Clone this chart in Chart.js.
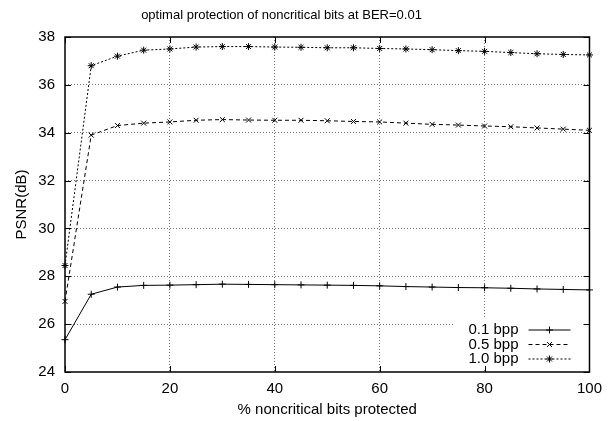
<!DOCTYPE html>
<html><head><meta charset="utf-8">
<script src="https://cdn.jsdelivr.net/npm/chart.js@4"></script>
<style>html,body{margin:0;padding:0;background:#fff}#wrap{width:610px;height:421px}</style>
</head><body><div id="wrap"><canvas id="c" width="610" height="421"></canvas></div>
<script>
const titleText = 'optimal protection of noncritical bits at BER=0.01';
const xLabel = '% noncritical bits protected';
const yLabel = 'PSNR(dB)';
const protectedPct = [0,5,10,15,20,25,30,35,40,45,50,55,60,65,70,75,80,85,90,95,100];
const seriesLabels = ['0.1 bpp','0.5 bpp','1.0 bpp'];
const psnr01 = [25.35,27.25,27.55,27.62,27.63,27.65,27.67,27.66,27.65,27.64,27.63,27.62,27.60,27.57,27.55,27.53,27.52,27.50,27.47,27.45,27.43];
const psnr05 = [26.95,33.90,34.30,34.40,34.45,34.52,34.55,34.53,34.52,34.52,34.50,34.47,34.45,34.40,34.35,34.32,34.28,34.25,34.20,34.15,34.10];
const psnr10 = [28.45,36.80,37.20,37.45,37.50,37.58,37.60,37.60,37.58,37.57,37.55,37.55,37.52,37.50,37.47,37.43,37.40,37.35,37.30,37.27,37.25];
const xTicks = [0,20,40,60,80,100];
const yTicks = [24,26,28,30,32,34,36,38];

const FONT = '"Liberation Sans", Arial, Helvetica, sans-serif';
const seriesValues = [psnr01, psnr05, psnr10];
const pointStyles = ['cross','crossRot','star'];
const dashes = [[], [4,3], [2,2]];

function drawMarker(ctx, style, x, y, r){
  ctx.beginPath();
  if (style === 'cross' || style === 'star'){
    ctx.moveTo(x - r, y); ctx.lineTo(x + r, y);
    ctx.moveTo(x, y - r); ctx.lineTo(x, y + r);
  }
  if (style === 'crossRot' || style === 'star'){
    const d = r * 0.7071;
    ctx.moveTo(x - d, y - d); ctx.lineTo(x + d, y + d);
    ctx.moveTo(x - d, y + d); ctx.lineTo(x + d, y - d);
  }
  ctx.stroke();
}

const gnuplotDecor = {
  id: 'gnuplotDecor',
  afterDatasetsDraw(chart){
    const ctx = chart.ctx, a = chart.chartArea;
    ctx.save();
    // legend box (white, covers grid)
    const boxL = a.right - 135, boxT = a.bottom - 54;
    ctx.fillStyle = '#fff';
    ctx.fillRect(boxL, boxT, 131, 50);
    ctx.font = '15px ' + FONT;
    ctx.fillStyle = '#000';
    ctx.textAlign = 'right';
    ctx.textBaseline = 'middle';
    const rows = [a.bottom - 42, a.bottom - 27.5, a.bottom - 13];
    seriesLabels.forEach((lab, i) => {
      const yy = rows[i];
      ctx.fillText(lab, a.right - 71, yy);
      ctx.strokeStyle = '#000';
      ctx.lineWidth = 1;
      ctx.setLineDash(dashes[i]);
      ctx.beginPath(); ctx.moveTo(a.right - 61, yy); ctx.lineTo(a.right - 19, yy); ctx.stroke();
      ctx.setLineDash([]);
      drawMarker(ctx, pointStyles[i], a.right - 40, yy, 3.5);
    });
    ctx.restore();
  },
  afterDraw(chart){
    const ctx = chart.ctx, a = chart.chartArea;
    const xs = chart.scales.x, ys = chart.scales.y;
    ctx.save();
    // title
    ctx.font = '13px ' + FONT;
    ctx.fillStyle = '#000';
    ctx.textAlign = 'center';
    ctx.textBaseline = 'middle';
    ctx.fillText(titleText, 281.5, 15);
    ctx.strokeStyle = '#000';
    ctx.lineWidth = 1;
    ctx.setLineDash([]);
    const tl = 6;
    ctx.beginPath();
    xTicks.forEach(v => {
      const px = Math.round(xs.getPixelForValue(v)) + 0.5;
      ctx.moveTo(px, a.bottom); ctx.lineTo(px, a.bottom - tl);
      ctx.moveTo(px, a.top); ctx.lineTo(px, a.top + tl);
    });
    yTicks.forEach(v => {
      const py = Math.round(ys.getPixelForValue(v)) + 0.5;
      ctx.moveTo(a.left, py); ctx.lineTo(a.left + tl, py);
      ctx.moveTo(a.right, py); ctx.lineTo(a.right - tl, py);
    });
    ctx.stroke();
    ctx.lineWidth = 1.5;
    ctx.strokeRect(a.left, a.top, a.right - a.left, a.bottom - a.top);
    ctx.restore();
  }
};

new Chart(document.getElementById('c'), {
  type: 'line',
  data: {
    datasets: seriesLabels.map((lab, i) => ({
      label: lab,
      data: protectedPct.map((x, j) => ({x: x, y: seriesValues[i][j]})),
      borderColor: '#000',
      backgroundColor: '#000',
      borderWidth: 1,
      borderDash: dashes[i],
      pointStyle: pointStyles[i],
      pointRadius: 3.5,
      pointBorderWidth: 1,
      pointBorderColor: '#000',
      pointBackgroundColor: '#000',
      tension: 0,
      fill: false,
      clip: false
    }))
  },
  options: {
    responsive: false,
    animation: false,
    devicePixelRatio: 1,
    layout: { padding: { left: 0, right: 20, top: 37, bottom: 0 } },
    plugins: {
      legend: { display: false },
      tooltip: { enabled: false },
      title: { display: false }
    },
    scales: {
      x: {
        type: 'linear', position: 'bottom', min: 0, max: 100,
        afterBuildTicks: s => { s.ticks = xTicks.map(v => ({ value: v })); },
        afterFit: s => { s.height = 49; },
        grid: {
          drawTicks: false,
          color: c => (c.tick && (c.tick.value === 0 || c.tick.value === 100)) ? 'rgba(0,0,0,0)' : '#777',
          lineWidth: 1
        },
        border: { display: false, dash: [1, 2] },
        ticks: { color: '#000', font: { family: FONT, size: 15 }, padding: 8, maxRotation: 0 },
        title: { display: true, text: xLabel, color: '#000', font: { family: FONT, size: 15 }, padding: { top: 0, bottom: 2 } }
      },
      y: {
        type: 'linear', min: 24, max: 38,
        afterBuildTicks: s => { s.ticks = yTicks.map(v => ({ value: v })); },
        afterFit: s => { s.width = 65; },
        grid: {
          drawTicks: false,
          color: c => (c.tick && (c.tick.value === 24 || c.tick.value === 38)) ? 'rgba(0,0,0,0)' : '#777',
          lineWidth: 1
        },
        border: { display: false, dash: [1, 2] },
        ticks: { color: '#000', font: { family: FONT, size: 15 }, padding: 10 },
        title: { display: true, text: yLabel, color: '#000', font: { family: FONT, size: 15 }, padding: { top: 13, bottom: 0 } }
      }
    }
  },
  plugins: [gnuplotDecor]
});
</script>
</body></html>
